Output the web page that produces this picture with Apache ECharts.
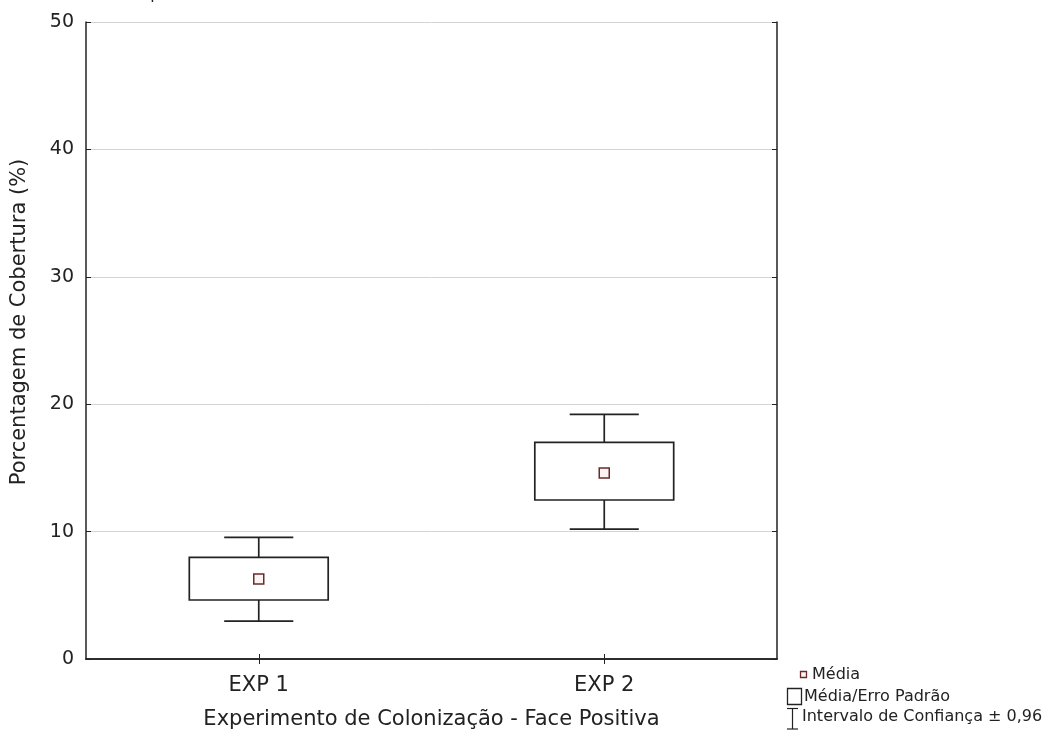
<!DOCTYPE html>
<html>
<head>
<meta charset="utf-8">
<script src="https://cdn.jsdelivr.net/npm/echarts@6/dist/echarts.min.js"></script>
<style>
  html, body { margin: 0; padding: 0; background: #fff; }
  #chart { width: 1050px; height: 731px; }
</style>
</head>
<body>
<div id="chart"></div>
<script>
// Percent cover by colonisation experiment (positive face)
const categories = ['EXP 1', 'EXP 2'];
const means      = [6.27, 14.6];
const seLow      = [4.63, 12.48];
const seHigh     = [7.97, 17.0];
const ciLow      = [2.98, 10.2];
const ciHigh     = [9.55, 19.2];
const yTicks     = [0, 10, 20, 30, 40, 50];

const FONT = '"DejaVu Sans", Verdana, sans-serif';
const INK = '#222';
const MEAN_EDGE = '#6b2a2a';
const MEAN_FILL = '#fdf3f3';

const boxData = categories.map((c, i) => [i, means[i], seLow[i], seHigh[i], ciLow[i], ciHigh[i]]);

const chart = echarts.init(document.getElementById('chart'));

chart.setOption({
  backgroundColor: '#fff',
  animation: false,
  grid: { left: 86, right: 273, top: 22, bottom: 72, containLabel: false, outerBoundsMode: 'none' },
  xAxis: [{
    type: 'category',
    data: categories,
    boundaryGap: true,
    position: 'bottom',
    axisLine: { show: true, lineStyle: { color: INK, width: 1.5 } },
    axisTick: { show: true, inside: true, length: 5, alignWithLabel: true, lineStyle: { color: INK } },
    axisLabel: { color: INK, fontSize: 21, fontFamily: FONT, margin: 16 },
    name: 'Experimento de Colonização - Face Positiva',
    nameLocation: 'middle',
    nameGap: 50,
    nameTextStyle: { color: INK, fontSize: 21, fontFamily: FONT },
    splitLine: { show: false }
  }, {
    type: 'category',
    data: categories,
    boundaryGap: true,
    position: 'top',
    axisLine: { show: true, lineStyle: { color: INK, width: 1.5 } },
    axisTick: { show: true, inside: true, length: 5, alignWithLabel: true, lineStyle: { color: INK } },
    axisLabel: { show: false }
  }],
  yAxis: [{
    type: 'value',
    min: 0, max: 50, interval: 10,
    position: 'left',
    axisLine: { show: true, lineStyle: { color: INK, width: 1.5 } },
    axisTick: { show: true, inside: true, length: 5, lineStyle: { color: INK } },
    axisLabel: {
      color: INK, fontSize: 19, fontFamily: FONT, margin: 12,
      formatter: v => yTicks.includes(v) ? String(v) : ''
    },
    splitLine: { show: true, lineStyle: { color: '#d4d4d4', width: 1 } }
  }, {
    type: 'value',
    min: 0, max: 50, interval: 10,
    position: 'right',
    axisLine: { show: true, lineStyle: { color: INK, width: 1.5 } },
    axisTick: { show: true, inside: true, length: 5, lineStyle: { color: INK } },
    axisLabel: { show: false },
    splitLine: { show: false }
  }],
  series: [{
    type: 'custom',
    xAxisIndex: 0,
    yAxisIndex: 0,
    data: boxData,
    encode: { x: 0, y: [1, 2, 3, 4, 5] },
    renderItem: function (params, api) {
      const x = api.value(0);
      const band = api.size([1, 0])[0];
      const boxW = band * 0.402;
      const capW = band * 0.2;
      const pMean = api.coord([x, api.value(1)]);
      const pSeL = api.coord([x, api.value(2)]);
      const pSeH = api.coord([x, api.value(3)]);
      const pCiL = api.coord([x, api.value(4)]);
      const pCiH = api.coord([x, api.value(5)]);
      const cx = pMean[0];
      const line = { stroke: INK, lineWidth: 1.7, fill: null };
      return {
        type: 'group',
        children: [
          { type: 'line', shape: { x1: cx, y1: pCiH[1], x2: cx, y2: pSeH[1] }, style: line },
          { type: 'line', shape: { x1: cx, y1: pSeL[1], x2: cx, y2: pCiL[1] }, style: line },
          { type: 'line', shape: { x1: cx - capW / 2, y1: pCiH[1], x2: cx + capW / 2, y2: pCiH[1] }, style: line },
          { type: 'line', shape: { x1: cx - capW / 2, y1: pCiL[1], x2: cx + capW / 2, y2: pCiL[1] }, style: line },
          { type: 'rect', shape: { x: cx - boxW / 2, y: pSeH[1], width: boxW, height: pSeL[1] - pSeH[1] },
            style: { stroke: INK, lineWidth: 1.7, fill: '#fff' } },
          { type: 'rect', shape: { x: cx - 5, y: pMean[1] - 5, width: 10, height: 10 },
            style: { stroke: MEAN_EDGE, lineWidth: 1.5, fill: MEAN_FILL } }
        ]
      };
    }
  }],
  graphic: [
    // caption line clipped at the top edge
    { type: 'text', left: 4, top: -13, style: { text: 'Coberturas dos experimentos', fill: INK, font: '16px ' + FONT } },
    // y-axis title
    { type: 'text', x: 20, y: 322, rotation: Math.PI / 2,
      style: { text: 'Porcentagem de Cobertura (%)', fill: INK, font: '21px ' + FONT, align: 'center', verticalAlign: 'middle' } },
    // legend
    { type: 'rect', shape: { x: 800.5, y: 671.5, width: 6, height: 6 }, style: { stroke: MEAN_EDGE, lineWidth: 1.3, fill: MEAN_FILL } },
    { type: 'text', x: 812, y: 675, style: { text: 'Média', fill: INK, font: '16px ' + FONT, verticalAlign: 'middle' } },
    { type: 'rect', shape: { x: 787.5, y: 688.5, width: 14, height: 16 }, style: { stroke: INK, lineWidth: 1.3, fill: '#fff' } },
    { type: 'text', x: 804, y: 697, style: { text: 'Média/Erro Padrão', fill: INK, font: '16px ' + FONT, verticalAlign: 'middle' } },
    { type: 'line', shape: { x1: 787, y1: 708.5, x2: 798, y2: 708.5 }, style: { stroke: INK, lineWidth: 1.2 } },
    { type: 'line', shape: { x1: 792.5, y1: 708.5, x2: 792.5, y2: 729 }, style: { stroke: INK, lineWidth: 1.2 } },
    { type: 'line', shape: { x1: 787, y1: 729, x2: 798, y2: 729 }, style: { stroke: INK, lineWidth: 1.2 } },
    { type: 'text', x: 802, y: 717, style: { text: 'Intervalo de Confiança ± 0,96', fill: INK, font: '16px ' + FONT, verticalAlign: 'middle' } }
  ]
});
</script>
</body>
</html>
